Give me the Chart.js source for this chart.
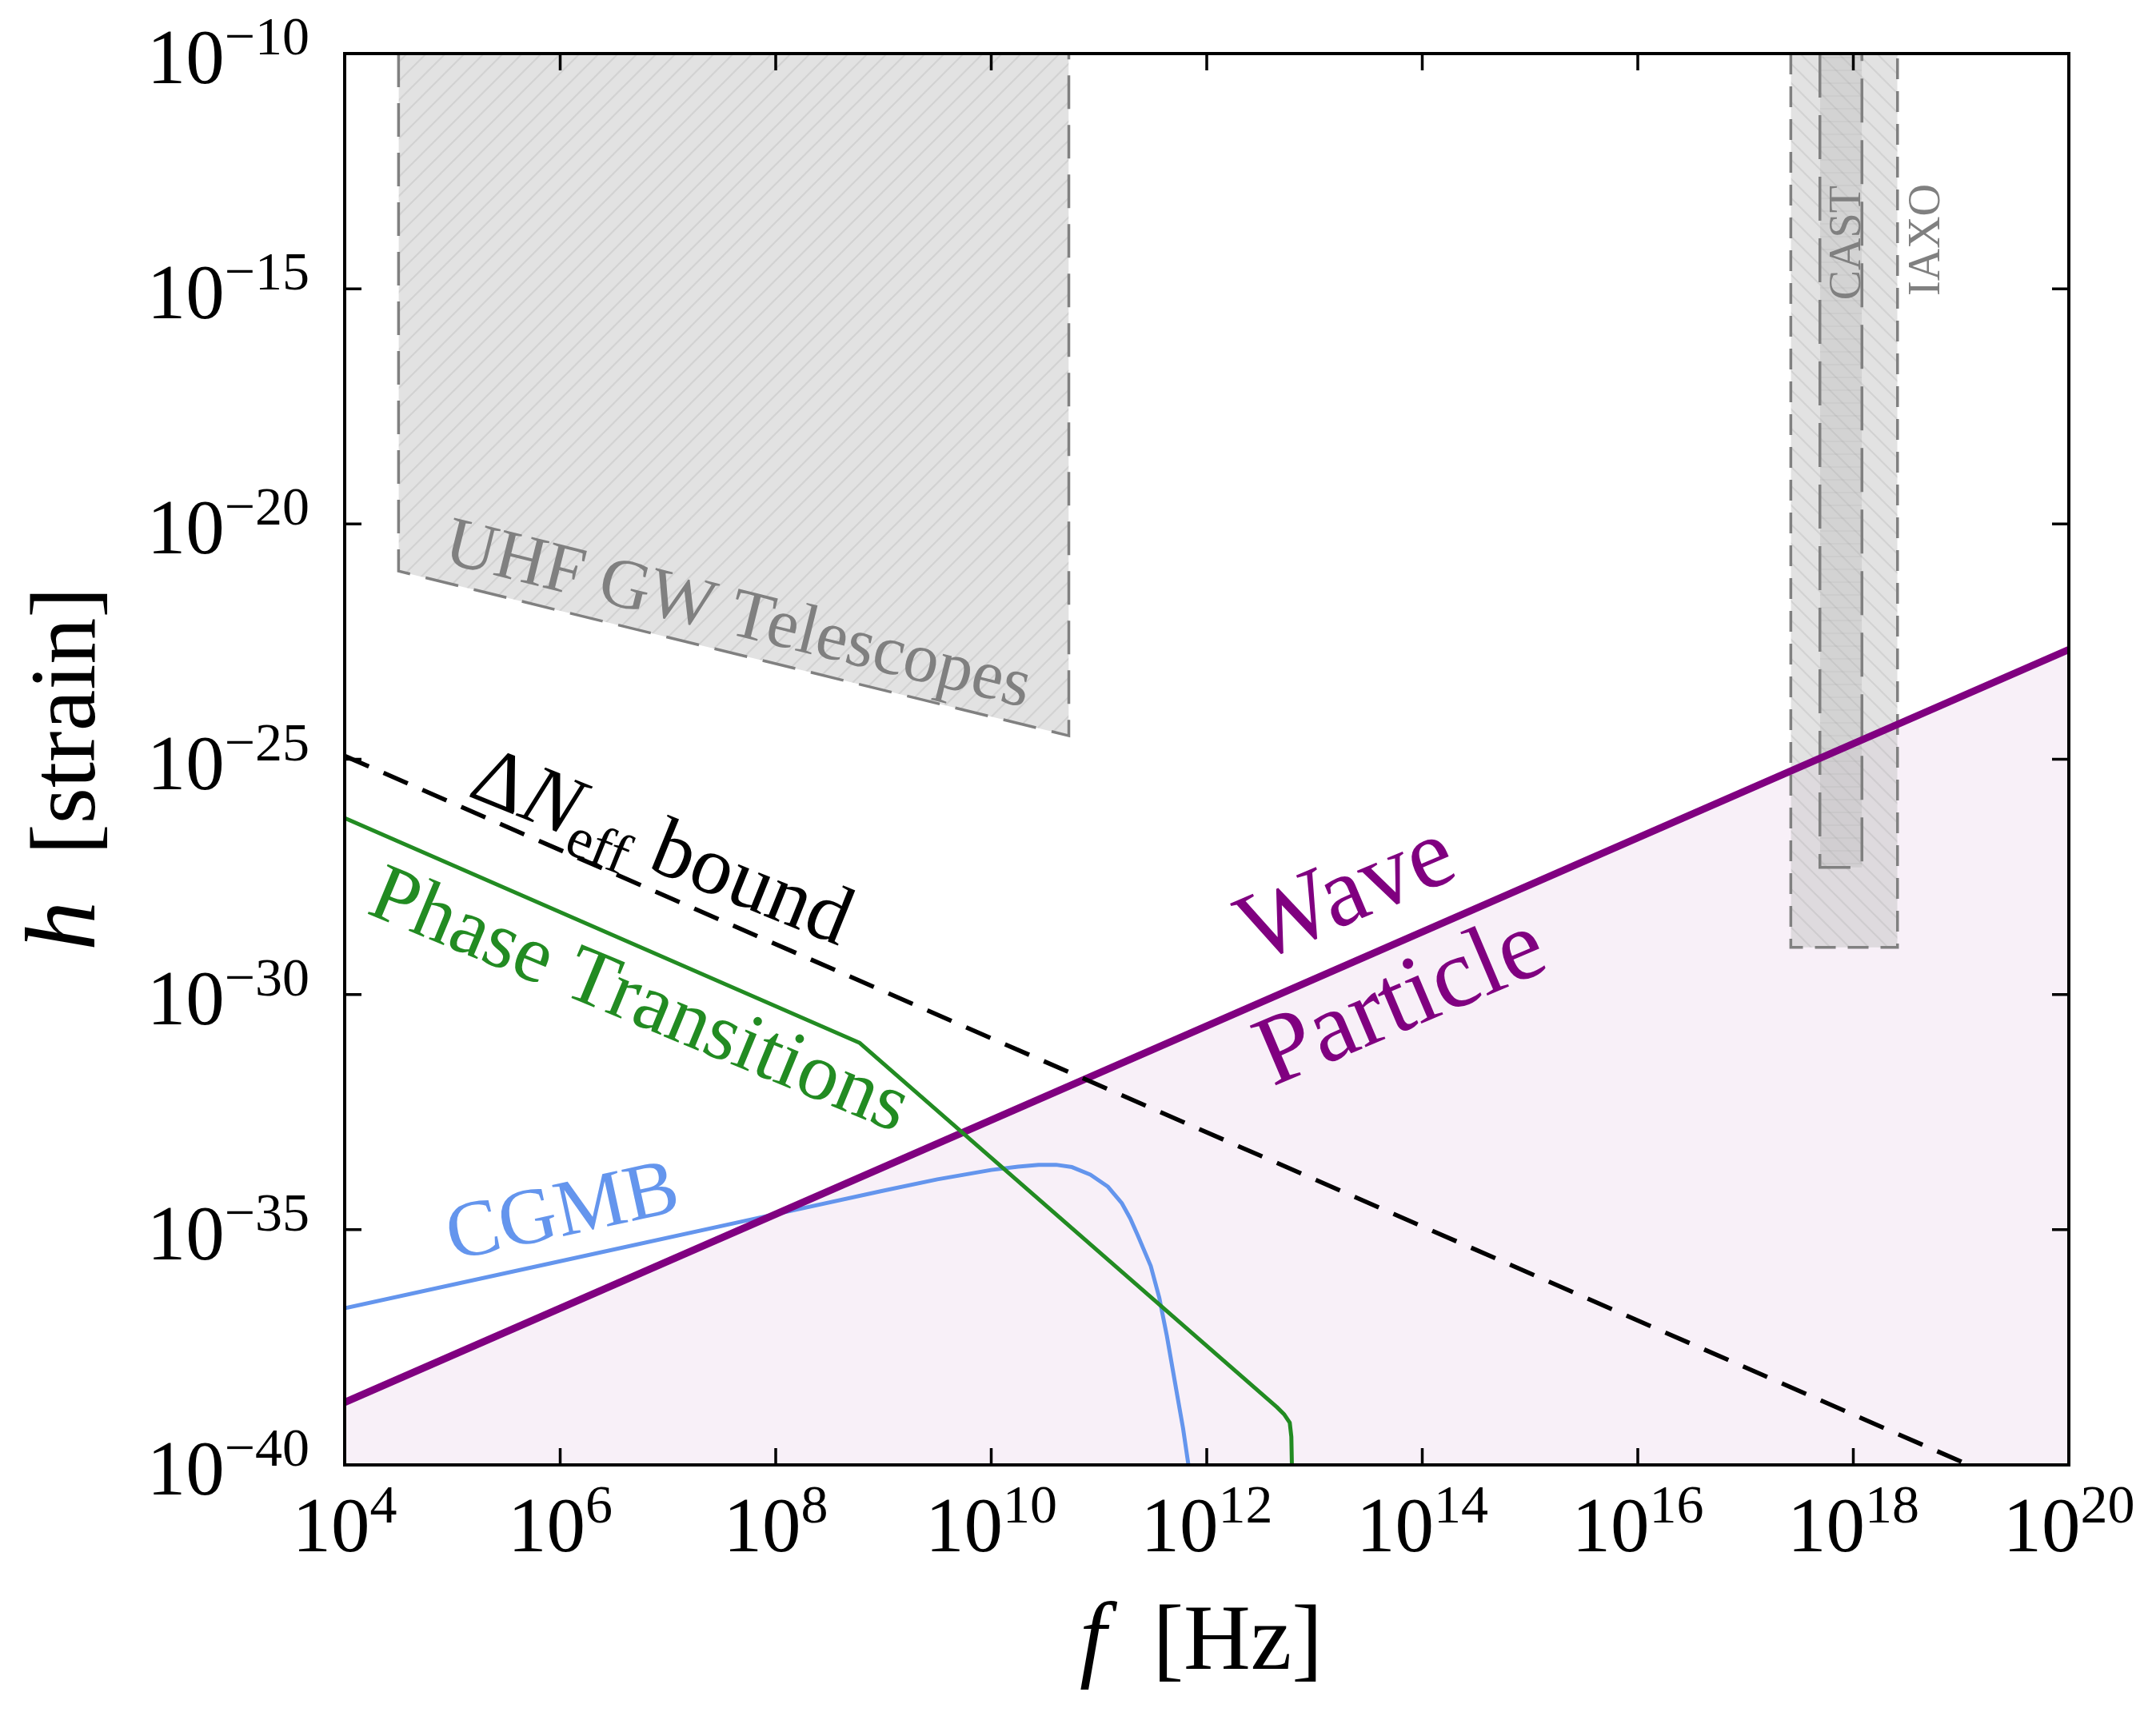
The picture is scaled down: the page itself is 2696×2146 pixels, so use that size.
<!DOCTYPE html>
<html>
<head>
<meta charset="utf-8">
<script src="https://cdn.jsdelivr.net/npm/chart.js@4.4.1/dist/chart.umd.min.js"></script>
<style>
  html, body { margin: 0; padding: 0; background: #fff; }
  #wrap { width: 2696px; height: 2146px; }
</style>
</head>
<body>
<div id="wrap"><canvas id="chart" width="2696" height="2146"></canvas></div>
<script>
// everything is in log10 units: x = log10(f / Hz), y = log10(h)
const xTicks = [4, 6, 8, 10, 12, 14, 16, 18, 20];
const yTicks = [-10, -15, -20, -25, -30, -35, -40];

// wave / particle boundary
const waveF = [4, 20];
const waveH = [-38.67, -22.67];

// Delta N_eff bound
const dneffF = [4, 19.07];
const dneffH = [-24.93, -40];

// phase transitions
const ptF = [4, 8.78, 12.65, 12.72, 12.77, 12.785, 12.79];
const ptH = [-26.25, -31.03, -38.77, -38.93, -39.1, -39.4, -40];

// CGMB
const cgmbF = [4, 6, 8, 9, 9.5, 10, 10.25, 10.44, 10.6, 10.75, 10.92, 11.08, 11.21, 11.29, 11.36, 11.48, 11.56, 11.63, 11.72, 11.78, 11.83];
const cgmbH = [-36.67, -35.67, -34.67, -34.17, -33.93, -33.73, -33.66, -33.62, -33.62, -33.67, -33.83, -34.08, -34.43, -34.76, -35.12, -35.77, -36.45, -37.26, -38.44, -39.22, -40.0];

// sensitivity regions (closed up to the top of the plot)
const uhfF = [4.5, 4.5, 10.72, 10.72];
const uhfH = [-10, -21.0, -24.5, -10];
const iaxoF = [17.42, 17.42, 18.41, 18.41];
const iaxoH = [-10, -29.0, -29.0, -10];
const castF = [17.69, 17.69, 18.08, 18.08];
const castH = [-10, -27.3, -27.3, -10];

const pts = (xs, ys) => xs.map((x, i) => ({ x, y: ys[i] }));

// hatch tiles
const hatch = (dir, gap, bg, line, lw) => {
    const c = document.createElement('canvas');
    c.width = gap; c.height = gap;
    const g = c.getContext('2d');
    g.fillStyle = bg;
    g.fillRect(0, 0, gap, gap);
    g.strokeStyle = line;
    g.lineWidth = lw;
    g.beginPath();
    if (dir === '/') {
        g.moveTo(-1, gap + 1); g.lineTo(gap + 1, -1);
        g.moveTo(-2, 2); g.lineTo(2, -2);
        g.moveTo(gap - 2, gap + 2); g.lineTo(gap + 2, gap - 2);
    } else if (dir === '\\') {
        g.moveTo(-1, -1); g.lineTo(gap + 1, gap + 1);
        g.moveTo(gap - 2, -2); g.lineTo(gap + 2, 2);
        g.moveTo(-2, gap - 2); g.lineTo(2, gap + 2);
    } else {
        g.moveTo(0, gap / 2); g.lineTo(gap, gap / 2);
    }
    g.stroke();
    return g.createPattern(c, 'repeat');
};

const uhfFill = hatch('/', 24, 'rgba(190,190,190,0.45)', 'rgba(150,150,150,0.22)', 2);
const iaxoFill = hatch('\\', 24, 'rgba(190,190,190,0.45)', 'rgba(150,150,150,0.22)', 2);
const castFill = hatch('-', 16, 'rgba(180,180,180,0.32)', 'rgba(160,160,160,0.15)', 2);

const serif = 'Liberation Serif';

// in-plot labels, anchored in data units (left end of the baseline)
const notes = [
    { x: 4.90, y: -20.81, angle: 14, color: '#808080', runs: [{ t: 'UHF GW Telescopes', f: `88px "${serif}"` }] },
    { x: 5.13, y: -25.77, angle: 22, color: '#000', runs: [
        { t: 'Δ', f: `104px "${serif}"` },
        { t: 'N', f: `italic 106px "${serif}"` },
        { t: 'eff', f: `72px "${serif}"`, dy: 20 },
        { t: ' bound', f: `104px "${serif}"` }
    ] },
    { x: 4.19, y: -28.26, angle: 22.5, color: '#228B22', runs: [{ t: 'Phase Transitions', f: `102px "${serif}"` }] },
    { x: 5.0, y: -35.65, angle: -12.3, color: '#6495ED', runs: [{ t: 'CGMB', f: `100px "${serif}"` }] },
    { x: 12.45, y: -29.34, angle: -23, color: '#800080', runs: [{ t: 'Wave', f: `124px "${serif}"` }] },
    { x: 12.61, y: -31.96, angle: -23, color: '#800080', runs: [{ t: 'Particle', f: `124px "${serif}"` }] },
    { x: 18.06, y: -15.24, angle: -90, color: '#808080', runs: [{ t: 'CAST', f: `56px "${serif}"` }] },
    { x: 18.80, y: -15.15, angle: -90, color: '#808080', runs: [{ t: 'IAXO', f: `56px "${serif}"` }] }
];

const drawRuns = (ctx, runs, x, y, angle, align) => {
    ctx.save();
    ctx.translate(x, y);
    ctx.rotate(angle * Math.PI / 180);
    ctx.textBaseline = 'alphabetic';
    ctx.textAlign = 'left';
    let total = 0;
    runs.forEach(r => { ctx.font = r.f; total += ctx.measureText(r.t).width; });
    let cx = align === 'center' ? -total / 2 : (align === 'right' ? -total : 0);
    runs.forEach(r => {
        ctx.font = r.f;
        ctx.fillText(r.t, cx, r.dy || 0);
        cx += ctx.measureText(r.t).width;
    });
    ctx.restore();
};

// frame, inward ticks, 10^n labels, titles and the notes
const decorations = {
    id: 'decorations',
    afterDraw(chart) {
        const { ctx, chartArea: a, scales: { x, y } } = chart;
        ctx.save();
        ctx.strokeStyle = '#000';
        ctx.lineWidth = 3.5;
        ctx.beginPath();
        xTicks.forEach(v => {
            const px = x.getPixelForValue(v);
            ctx.moveTo(px, a.bottom); ctx.lineTo(px, a.bottom - 21);
            ctx.moveTo(px, a.top); ctx.lineTo(px, a.top + 21);
        });
        yTicks.forEach(v => {
            const py = y.getPixelForValue(v);
            ctx.moveTo(a.left, py); ctx.lineTo(a.left + 21, py);
            ctx.moveTo(a.right, py); ctx.lineTo(a.right - 21, py);
        });
        ctx.stroke();
        ctx.lineWidth = 4;
        ctx.strokeRect(a.left, a.top, a.right - a.left, a.bottom - a.top);

        ctx.fillStyle = '#000';
        const big = `97px "${serif}"`;
        const small = `68px "${serif}"`;
        const expText = v => (v < 0 ? '\u2212' + (-v) : String(v));
        xTicks.forEach(v => {
            const px = x.getPixelForValue(v);
            ctx.font = big; const w1 = ctx.measureText('10').width;
            ctx.font = small; const w2 = ctx.measureText(expText(v)).width;
            const x0 = px - (w1 + w2) / 2;
            drawRuns(ctx, [{ t: '10', f: big }, { t: expText(v), f: small, dy: -36 }], x0, a.bottom + 108, 0, 'left');
        });
        yTicks.forEach(v => {
            const py = y.getPixelForValue(v);
            drawRuns(ctx, [{ t: '10', f: big }, { t: expText(v), f: small, dy: -36 }], a.left - 44, py + 37, 0, 'right');
        });

        drawRuns(ctx, [{ t: 'f', f: `italic 120px "${serif}"` }, { t: '  [Hz]', f: `116px "${serif}"` }],
            (a.left + a.right) / 2 - 7, a.bottom + 255, 0, 'center');
        drawRuns(ctx, [{ t: 'h', f: `italic 124px "${serif}"` }, { t: '  [strain]', f: `116px "${serif}"` }],
            118, (a.top + a.bottom) / 2 + 12, -90, 'center');

        notes.forEach(n => {
            ctx.fillStyle = n.color;
            drawRuns(ctx, n.runs, x.getPixelForValue(n.x), y.getPixelForValue(n.y), n.angle, 'left');
        });
        ctx.restore();
    }
};

const ctx = document.getElementById('chart').getContext('2d');
new Chart(ctx, {
    type: 'line',
    data: {
        datasets: [
            { label: 'dneff', data: pts(dneffF, dneffH), borderColor: '#000', borderWidth: 5.5, borderDash: [33, 20], fill: false },
            { label: 'phase', data: pts(ptF, ptH), borderColor: '#228B22', borderWidth: 5, borderJoinStyle: 'round', fill: false },
            { label: 'wave', data: pts(waveF, waveH), borderColor: '#800080', borderWidth: 9, fill: false },
            { label: 'cgmb', data: pts(cgmbF, cgmbH), borderColor: '#6495ED', borderWidth: 5, borderJoinStyle: 'round', fill: false },
            { label: 'cast', data: pts(castF, castH), borderColor: '#808080', borderWidth: 3.5, borderDash: [55, 22], fill: 'end', backgroundColor: castFill },
            { label: 'iaxo', data: pts(iaxoF, iaxoH), borderColor: '#808080', borderWidth: 3.5, borderDash: [26, 15], fill: 'end', backgroundColor: iaxoFill },
            { label: 'uhf', data: pts(uhfF, uhfH), borderColor: '#808080', borderWidth: 3.5, borderDash: [42, 20], fill: 'end', backgroundColor: uhfFill },
            { label: 'particle', data: pts(waveF, waveH), borderColor: 'rgba(0,0,0,0)', borderWidth: 0, fill: 'start', backgroundColor: 'rgba(128,0,128,0.06)' }
        ]
    },
    options: {
        responsive: false,
        animation: false,
        devicePixelRatio: 1,
        layout: { padding: { left: 431, right: 109, top: 67, bottom: 314 } },
        elements: { point: { radius: 0 }, line: { tension: 0 } },
        scales: {
            x: { type: 'linear', min: 4, max: 20, display: false },
            y: { type: 'linear', min: -40, max: -10, display: false }
        },
        plugins: { legend: { display: false }, tooltip: { enabled: false } }
    },
    plugins: [decorations]
});
</script>
</body>
</html>
